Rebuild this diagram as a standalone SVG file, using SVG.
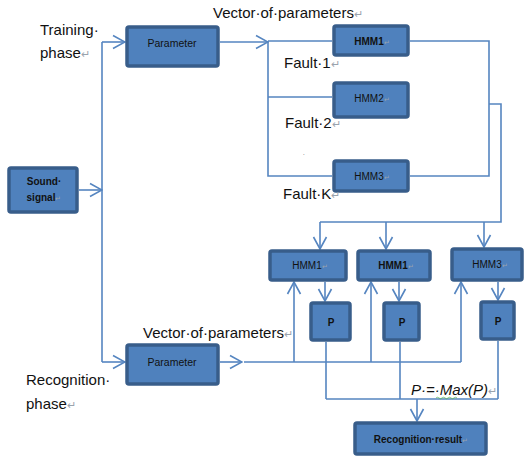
<svg xmlns="http://www.w3.org/2000/svg" width="525" height="457" viewBox="0 0 525 457">
<style>
.box{fill:#4f81bd;stroke:#385d8a;stroke-width:3.5}
.ln{fill:none;stroke:#5585c0;stroke-width:1.6}
.lbl{font-family:"Liberation Sans",Arial,sans-serif;font-size:15px;fill:#111}
.bt{font-family:"Liberation Sans",Arial,sans-serif;font-size:10px;fill:#111;text-anchor:middle}
.b{font-weight:bold}
.rt{fill:#9aa3ad;font-size:0.7em}
</style>
<defs>
<marker id="ah" markerUnits="userSpaceOnUse" markerWidth="14" markerHeight="16" viewBox="0 0 14 16" refX="13" refY="8" orient="auto">
<path d="M1,1.5 L13,8 L1,14.5" fill="none" stroke="#5585c0" stroke-width="1.6"/>
</marker>
</defs>
<rect width="525" height="457" fill="#fff"/>
<g id="connectors">
<path class="ln" d="M79,190 H102" marker-end="url(#ah)"/>
<path class="ln" d="M102,42 V362"/>
<path class="ln" d="M102,42 H125" marker-end="url(#ah)"/>
<path class="ln" d="M102,362 H125" marker-end="url(#ah)"/>
<path class="ln" d="M220,42 H268" marker-end="url(#ah)"/>
<path class="ln" d="M268,41 V176 H332 M268,41 H332 M268,97 H332"/>
<path class="ln" d="M410,41 H489 V176 H410 M489,104 H501 V222 H320"/>
<path class="ln" d="M320,222 V249" marker-end="url(#ah)"/>
<path class="ln" d="M386,222 V249" marker-end="url(#ah)"/>
<path class="ln" d="M484,222 V247" marker-end="url(#ah)"/>
<path class="ln" d="M325,282 V301" marker-end="url(#ah)"/>
<path class="ln" d="M399,282 V301" marker-end="url(#ah)"/>
<path class="ln" d="M498,282 V300" marker-end="url(#ah)"/>
<path class="ln" d="M220,362 H242" marker-end="url(#ah)"/>
<path class="ln" d="M244,362 H461"/>
<path class="ln" d="M294,362 V282" marker-end="url(#ah)"/>
<path class="ln" d="M371,362 V282" marker-end="url(#ah)"/>
<path class="ln" d="M461,362 V282" marker-end="url(#ah)"/>
<path class="ln" d="M326,342 V399 M400,342 V399 M498,341 V399 M326,399 H498"/>
<path class="ln" d="M417,399 V421" marker-end="url(#ah)"/>
</g>
<g id="sound">
<rect class="box" x="9" y="168" width="68" height="44" rx="2"/>
<text class="bt b" x="44" y="185">Sound·</text>
<text class="bt" x="44" y="201"><tspan class="b">signal</tspan><tspan class="rt">↵</tspan></text>
</g>
<g id="param-train">
<rect class="box" x="127" y="27" width="91" height="39" rx="2"/>
<text class="bt" x="172" y="47" style="font-size:10.5px">Parameter</text>
</g>
<g id="hmm1-train">
<rect class="box" x="334" y="26" width="74" height="29" rx="2"/>
<text class="bt b" x="372" y="45">HMM1<tspan class="rt" font-weight="normal">↵</tspan></text>
</g>
<g id="hmm2-train">
<rect class="box" x="334" y="83" width="74" height="34" rx="2"/>
<text class="bt" x="372" y="102">HMM2<tspan class="rt">↵</tspan></text>
</g>
<g id="hmm3-train">
<rect class="box" x="334" y="161" width="74" height="30" rx="2"/>
<text class="bt" x="372" y="180">HMM3<tspan class="rt">↵</tspan></text>
</g>
<g id="param-rec">
<rect class="box" x="127" y="345" width="91" height="39" rx="2"/>
<text class="bt" x="172" y="366" style="font-size:10.5px">Parameter</text>
</g>
<g id="hmm1-rec-a">
<rect class="box" x="270" y="251" width="76" height="29" rx="2"/>
<text class="bt" x="310" y="269">HMM1<tspan class="rt">↵</tspan></text>
</g>
<g id="hmm1-rec-b">
<rect class="box" x="358" y="251" width="72" height="29" rx="2"/>
<text class="bt b" x="396" y="269">HMM1<tspan class="rt" font-weight="normal">↵</tspan></text>
</g>
<g id="hmm3-rec">
<rect class="box" x="452" y="249" width="70" height="31" rx="2"/>
<text class="bt" x="490" y="268">HMM3<tspan class="rt">↵</tspan></text>
</g>
<g id="p1">
<rect class="box" x="311" y="303" width="39" height="37" rx="2"/>
<text class="bt b" x="331" y="326">P</text>
</g>
<g id="p2">
<rect class="box" x="384" y="303" width="35" height="37" rx="2"/>
<text class="bt b" x="402" y="326">P</text>
</g>
<g id="p3">
<rect class="box" x="481" y="302" width="33" height="37" rx="2"/>
<text class="bt b" x="498" y="325">P</text>
</g>
<g id="result">
<rect class="box" x="355" y="423" width="131" height="31" rx="2"/>
<text class="bt b" x="421" y="443">Recognition·result<tspan class="rt" font-weight="normal">↵</tspan></text>
</g>
<g id="labels">
<text class="lbl" x="40" y="35">Training·</text>
<text class="lbl" x="40" y="58">phase<tspan class="rt">↵</tspan></text>
<text class="lbl" x="213" y="18">Vector·of·parameters<tspan class="rt">↵</tspan></text>
<text class="lbl" x="284" y="68">Fault·1<tspan class="rt">↵</tspan></text>
<text class="lbl" x="285" y="128">Fault·2<tspan class="rt">↵</tspan></text>
<text class="lbl" x="283" y="199">Fault·K<tspan class="rt">↵</tspan></text>
<text class="lbl" x="303" y="155" style="font-size:6px">.</text>
<text class="lbl" x="143" y="338">Vector·of·parameters<tspan class="rt">↵</tspan></text>
<text class="lbl" x="26" y="385">Recognition·</text>
<text class="lbl" x="26" y="409">phase<tspan class="rt">↵</tspan></text>
<text class="lbl" x="411" y="395" font-style="italic">P·=·Max(P)<tspan class="rt" font-style="normal">↵</tspan></text>
<path d="M436,398 q1.5,-1.5 3,0 t3,0 t3,0 t3,0 t3,0 t3,0 t3,0" fill="none" stroke="#5cb85c" stroke-width="0.8"/>
</g>
</svg>
